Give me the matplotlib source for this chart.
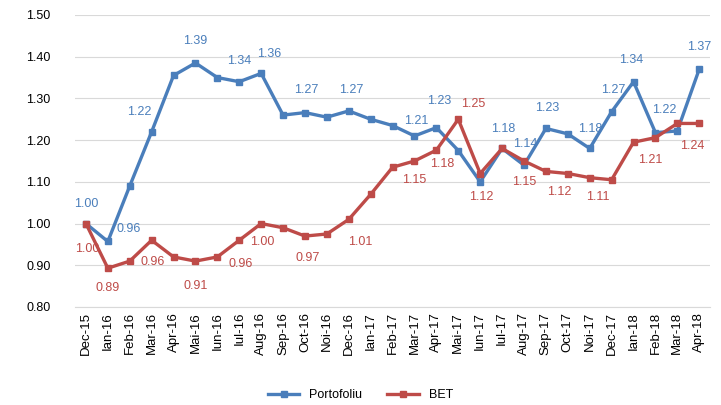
import numpy as np
import matplotlib
matplotlib.use('Agg')
import matplotlib.pyplot as plt

#---DATA----------------------------------------------------------------------------------------------------------------
months = ['Dec-15','Ian-16','Feb-16','Mar-16','Apr-16','Mai-16','Iun-16','Iul-16','Aug-16','Sep-16',
          'Oct-16','Noi-16','Dec-16','Ian-17','Feb-17','Mar-17','Apr-17','Mai-17','Iun-17','Iul-17',
          'Aug-17','Sep-17','Oct-17','Noi-17','Dec-17','Ian-18','Feb-18','Mar-18','Apr-18']

portofoliu = [1.00,0.957,1.09,1.22,1.355,1.385,1.35,1.34,1.36,1.26,
              1.266,1.255,1.27,1.25,1.235,1.21,1.23,1.175,1.10,1.18,
              1.14,1.228,1.215,1.18,1.268,1.34,1.218,1.222,1.37]

bet = [1.00,0.893,0.91,0.96,0.92,0.91,0.92,0.96,1.00,0.99,
       0.97,0.975,1.01,1.07,1.135,1.15,1.176,1.25,1.12,1.18,
       1.15,1.125,1.12,1.11,1.105,1.195,1.206,1.24,1.24]

#which points carry a data label (index, x offset pts, y offset pts)
port_labels = [(0,0,14),(1,15,9),(3,-9,14),(5,0,16),(7,0,15),(8,6,14),(10,1,16),(12,2,15),
               (15,1,11),(16,2,19),(19,1,14),(20,1,15),(21,1,15),(23,0,14),(24,1,16),(25,-2,16),
               (26,6,16),(28,0,16)]
bet_labels = [(0,1,-18),(1,0,-14),(3,1,-16),(5,0,-18),(7,1,-17),(8,1,-13),(10,2,-16),(12,8,-16),
              (15,0,-14),(16,4,-10),(17,11,11),(18,1,-17),(20,0,-15),(22,-6,-13),(23,6,-14),
              (26,-4,-16),(28,-5,-16)]

#---PLOT----------------------------------------------------------------------------------------------------------------
plt.rcParams['font.family'] = ['Liberation Sans','DejaVu Sans']
blue = '#4a7ebb'
red = '#be4b48'

fig = plt.figure(figsize=(7.21,4.05), dpi=100)
ax = fig.add_axes([0.104,0.242,0.881,0.721])

x = np.arange(len(months))
ax.plot(x, portofoliu, color=blue, lw=2.4, marker='s', ms=5, label='Portofoliu', zorder=3)
ax.plot(x, bet, color=red, lw=2.4, marker='s', ms=5, label='BET', zorder=3)

for i, dx, dy in port_labels:
  ax.annotate('%.2f' % portofoliu[i], xy=(x[i], portofoliu[i]), xytext=(dx,dy), textcoords='offset points',
              ha='center', va='center', color=blue, fontsize=9)
for i, dx, dy in bet_labels:
  ax.annotate('%.2f' % bet[i], xy=(x[i], bet[i]), xytext=(dx,dy), textcoords='offset points',
              ha='center', va='center', color=red, fontsize=9)

ax.set_ylim(0.8,1.5)
ax.set_xlim(-0.5,len(months)-0.5)
ax.set_yticks(np.arange(0.8,1.51,0.1))
ax.set_yticklabels(['%.2f' % v for v in np.arange(0.8,1.51,0.1)], fontsize=9)
ax.set_xticks(x)
ax.set_xticklabels(months, rotation=90, fontsize=9.5)
ax.yaxis.grid(True, color='#d9d9d9', lw=0.8)
ax.set_axisbelow(True)
for s in ['top','right','left']:
  ax.spines[s].set_visible(False)
ax.spines['bottom'].set_color('#d9d9d9')
ax.tick_params(length=0)
ax.tick_params(axis='y', pad=35)
for lbl in ax.get_yticklabels():
  lbl.set_horizontalalignment('left')

leg = fig.legend(loc='center', bbox_to_anchor=(0.5,0.025), ncol=2, frameon=False, fontsize=9,
                 handlelength=2.5, columnspacing=2)

fig.savefig('out.png', dpi=100)
